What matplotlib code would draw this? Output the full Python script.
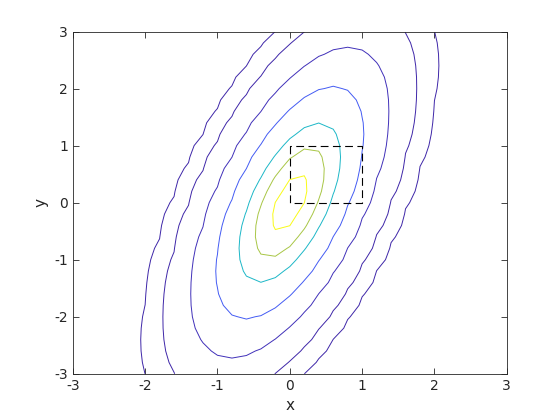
import numpy as np
import matplotlib
matplotlib.use("Agg")
import matplotlib.pyplot as plt
from matplotlib.colors import LinearSegmentedColormap

# Distribution parameters (MATLAB mvnpdf example)
mu = [0.0, 0.0]
Sigma = [[0.25, 0.3], [0.3, 1.0]]
grid_lo, grid_hi, grid_step = -3.0, 3.0, 0.2
levels = [0.0001, 0.001, 0.01, 0.05, 0.15, 0.25, 0.35]
rect_x = [0, 0, 1, 1, 0]
rect_y = [1, 0, 0, 1, 1]

parula_pts = [
    (0.2422, 0.1504, 0.6603), (0.2810, 0.3228, 0.9579), (0.1540, 0.5902, 0.9218),
    (0.0689, 0.6948, 0.8394), (0.1707, 0.7484, 0.7012), (0.4420, 0.7951, 0.4413),
    (0.7500, 0.7700, 0.2000), (0.9932, 0.7263, 0.2303), (0.9769, 0.9839, 0.0805)]
parula = LinearSegmentedColormap.from_list("parula", parula_pts)

x1 = np.arange(grid_lo, grid_hi + grid_step / 2, grid_step)
x2 = np.arange(grid_lo, grid_hi + grid_step / 2, grid_step)
X1, X2 = np.meshgrid(x1, x2)
S = np.array(Sigma)
Si = np.linalg.inv(S)
d1 = X1 - mu[0]
d2 = X2 - mu[1]
q = Si[0, 0] * d1**2 + 2 * Si[0, 1] * d1 * d2 + Si[1, 1] * d2**2
F = np.exp(-0.5 * q) / (2 * np.pi * np.sqrt(np.linalg.det(S)))

fig = plt.figure(figsize=(5.6, 4.2), dpi=100)
ax = fig.add_axes([0.13, 0.11, 0.775, 0.815])
lmin, lmax = min(levels), max(levels)
colors = [parula((l - lmin) / (lmax - lmin)) for l in levels]
ax.contour(X1, X2, F, levels=levels, colors=colors, linewidths=0.7)
ax.plot(rect_x, rect_y, linestyle=(0, (7, 4)), color='k', linewidth=0.8)

ax.set_xlim(-3, 3)
ax.set_ylim(-3, 3)
ticks = [-3, -2, -1, 0, 1, 2, 3]
ax.set_xticks(ticks)
ax.set_yticks(ticks)
ax.set_xticklabels([str(t) for t in ticks])
ax.set_yticklabels([str(t) for t in ticks])
ax.tick_params(direction='in', length=4, width=0.6, colors='#262626', labelsize=10,
               top=True, right=True, labeltop=False, labelright=False)
for s in ax.spines.values():
    s.set_linewidth(0.6)
    s.set_color('#262626')
ax.set_xlabel('x', fontsize=11, color='#262626')
ax.set_ylabel('y', fontsize=11, color='#262626')
fig.savefig('out.png', dpi=100)
